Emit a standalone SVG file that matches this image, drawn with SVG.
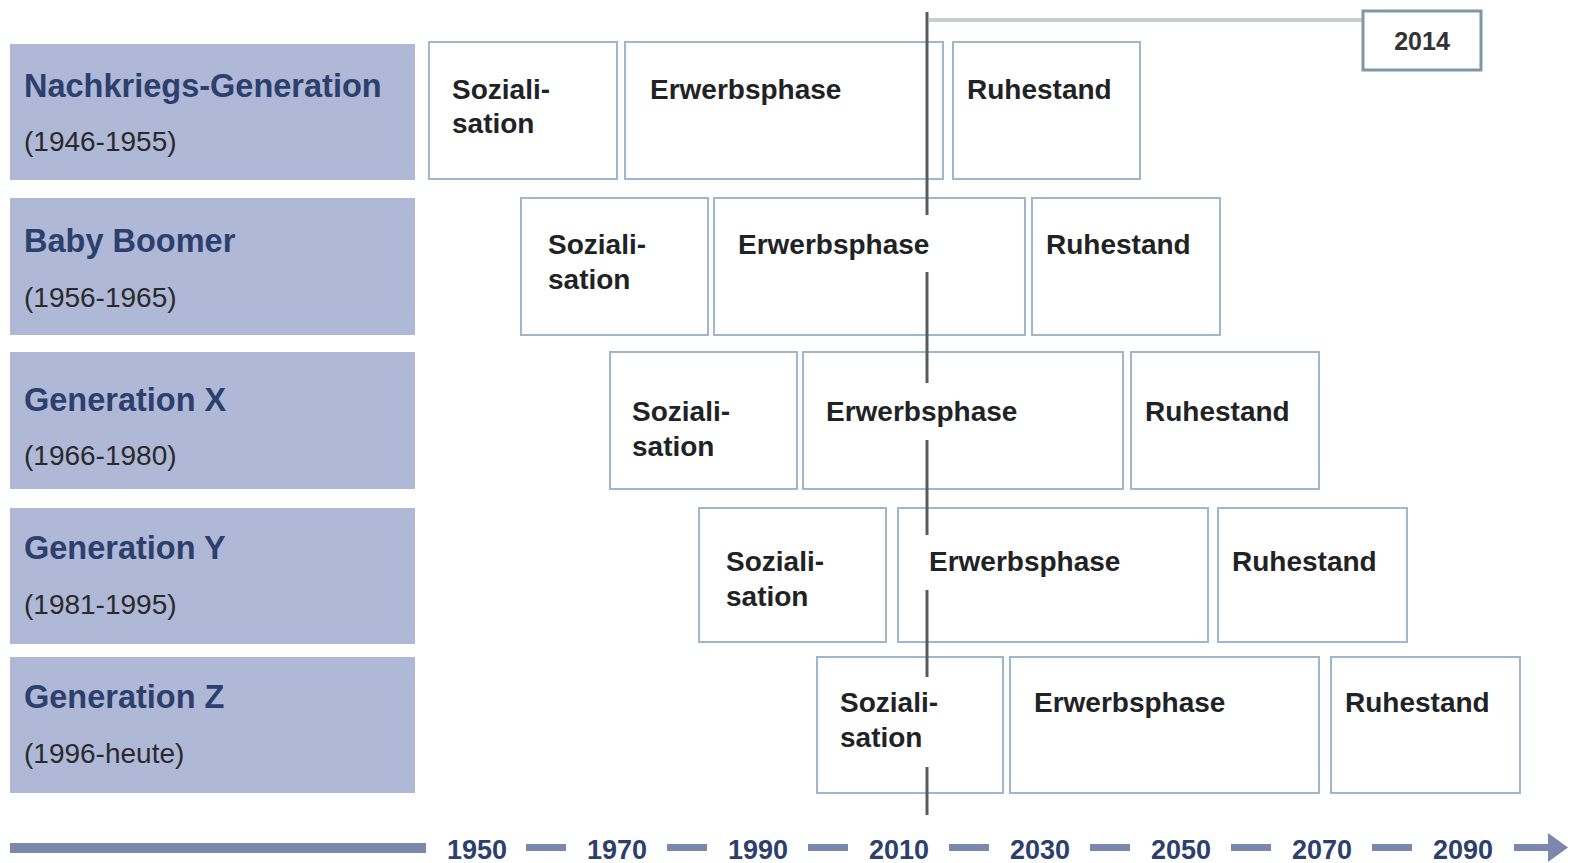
<svg xmlns="http://www.w3.org/2000/svg" width="1573" height="863" viewBox="0 0 1573 863">
<style>
.lab{fill:#afb8d6}
.ph{fill:#fff;stroke:#9fb6cf;stroke-width:2}
.t1{font-family:"Liberation Sans",Arial,sans-serif;font-weight:bold;font-size:32.5px;fill:#2d3f6c}
.t2{font-family:"Liberation Sans",Arial,sans-serif;font-size:28px;fill:#2a2a2a}
.pt{font-family:"Liberation Sans",Arial,sans-serif;font-weight:bold;font-size:28px;fill:#1f2326}
.yr{font-family:"Liberation Sans",Arial,sans-serif;font-weight:bold;font-size:27px;fill:#2d3f6c;text-anchor:middle}
.ax{fill:#7b87ae}
.vl{stroke:#5a5a5a;stroke-width:3;fill:none}
</style>
<rect width="1573" height="863" fill="#fff"/>

<g id="row1">
<rect class="lab" x="10" y="44" width="405" height="136"/>
<text class="t1" x="24" y="97">Nachkriegs-Generation</text>
<text class="t2" x="24" y="151">(1946-1955)</text>
<rect class="ph" x="429" y="42" width="188" height="137"/>
<text class="pt" x="452" y="99">Soziali-</text><text class="pt" x="452" y="133">sation</text>
<rect class="ph" x="625" y="42" width="318" height="137"/>
<text class="pt" x="650" y="99">Erwerbsphase</text>
<rect class="ph" x="953" y="42" width="187" height="137"/>
<text class="pt" x="967" y="99">Ruhestand</text>
</g>

<g id="row2">
<rect class="lab" x="10" y="198" width="405" height="137"/>
<text class="t1" x="24" y="252">Baby Boomer</text>
<text class="t2" x="24" y="307">(1956-1965)</text>
<rect class="ph" x="521" y="198" width="187" height="137"/>
<text class="pt" x="548" y="254">Soziali-</text><text class="pt" x="548" y="289">sation</text>
<rect class="ph" x="714" y="198" width="311" height="137"/>
<text class="pt" x="738" y="254">Erwerbsphase</text>
<rect class="ph" x="1032" y="198" width="188" height="137"/>
<text class="pt" x="1046" y="254">Ruhestand</text>
</g>

<g id="row3">
<rect class="lab" x="10" y="352" width="405" height="137"/>
<text class="t1" x="24" y="411">Generation X</text>
<text class="t2" x="24" y="465">(1966-1980)</text>
<rect class="ph" x="610" y="352" width="187" height="137"/>
<text class="pt" x="632" y="421">Soziali-</text><text class="pt" x="632" y="456">sation</text>
<rect class="ph" x="803" y="352" width="320" height="137"/>
<text class="pt" x="826" y="421">Erwerbsphase</text>
<rect class="ph" x="1131" y="352" width="188" height="137"/>
<text class="pt" x="1145" y="421">Ruhestand</text>
</g>

<g id="row4">
<rect class="lab" x="10" y="508" width="405" height="136"/>
<text class="t1" x="24" y="559">Generation Y</text>
<text class="t2" x="24" y="614">(1981-1995)</text>
<rect class="ph" x="699" y="508" width="187" height="134"/>
<text class="pt" x="726" y="571">Soziali-</text><text class="pt" x="726" y="606">sation</text>
<rect class="ph" x="898" y="508" width="310" height="134"/>
<text class="pt" x="929" y="571">Erwerbsphase</text>
<rect class="ph" x="1218" y="508" width="189" height="134"/>
<text class="pt" x="1232" y="571">Ruhestand</text>
</g>

<g id="row5">
<rect class="lab" x="10" y="657" width="405" height="136"/>
<text class="t1" x="24" y="708">Generation Z</text>
<text class="t2" x="24" y="763">(1996-heute)</text>
<rect class="ph" x="817" y="657" width="186" height="136"/>
<text class="pt" x="840" y="712">Soziali-</text><text class="pt" x="840" y="747">sation</text>
<rect class="ph" x="1010" y="657" width="309" height="136"/>
<text class="pt" x="1034" y="712">Erwerbsphase</text>
<rect class="ph" x="1331" y="657" width="189" height="136"/>
<text class="pt" x="1345" y="712">Ruhestand</text>
</g>

<g id="marker2014">
<line x1="929" y1="20" x2="1362" y2="20" stroke="#c9cdd0" stroke-width="4"/>
<rect x="1363" y="11" width="118" height="59" fill="#fff" stroke="#7f97a0" stroke-width="3"/>
<text x="1422" y="50" text-anchor="middle" font-family="Liberation Sans,Arial,sans-serif" font-weight="bold" font-size="25" fill="#333">2014</text>
</g>

<g id="connectors">
<path class="vl" d="M927 12V215M927 272V383M927 440V535M927 590V677M927 767V815"/>
</g>

<g id="axis">
<rect class="ax" x="10" y="843" width="416" height="10"/>
<rect class="ax" x="526" y="844" width="40" height="7"/>
<rect class="ax" x="667" y="844" width="40" height="7"/>
<rect class="ax" x="808" y="844" width="40" height="7"/>
<rect class="ax" x="949" y="844" width="40" height="7"/>
<rect class="ax" x="1090" y="844" width="40" height="7"/>
<rect class="ax" x="1231" y="844" width="40" height="7"/>
<rect class="ax" x="1372" y="844" width="40" height="7"/>
<path class="ax" d="M1514 844H1548V833L1568 847.5L1548 862V851H1514Z"/>
<text class="yr" x="477" y="859">1950</text>
<text class="yr" x="617" y="859">1970</text>
<text class="yr" x="758" y="859">1990</text>
<text class="yr" x="899" y="859">2010</text>
<text class="yr" x="1040" y="859">2030</text>
<text class="yr" x="1181" y="859">2050</text>
<text class="yr" x="1322" y="859">2070</text>
<text class="yr" x="1463" y="859">2090</text>
</g>
</svg>
